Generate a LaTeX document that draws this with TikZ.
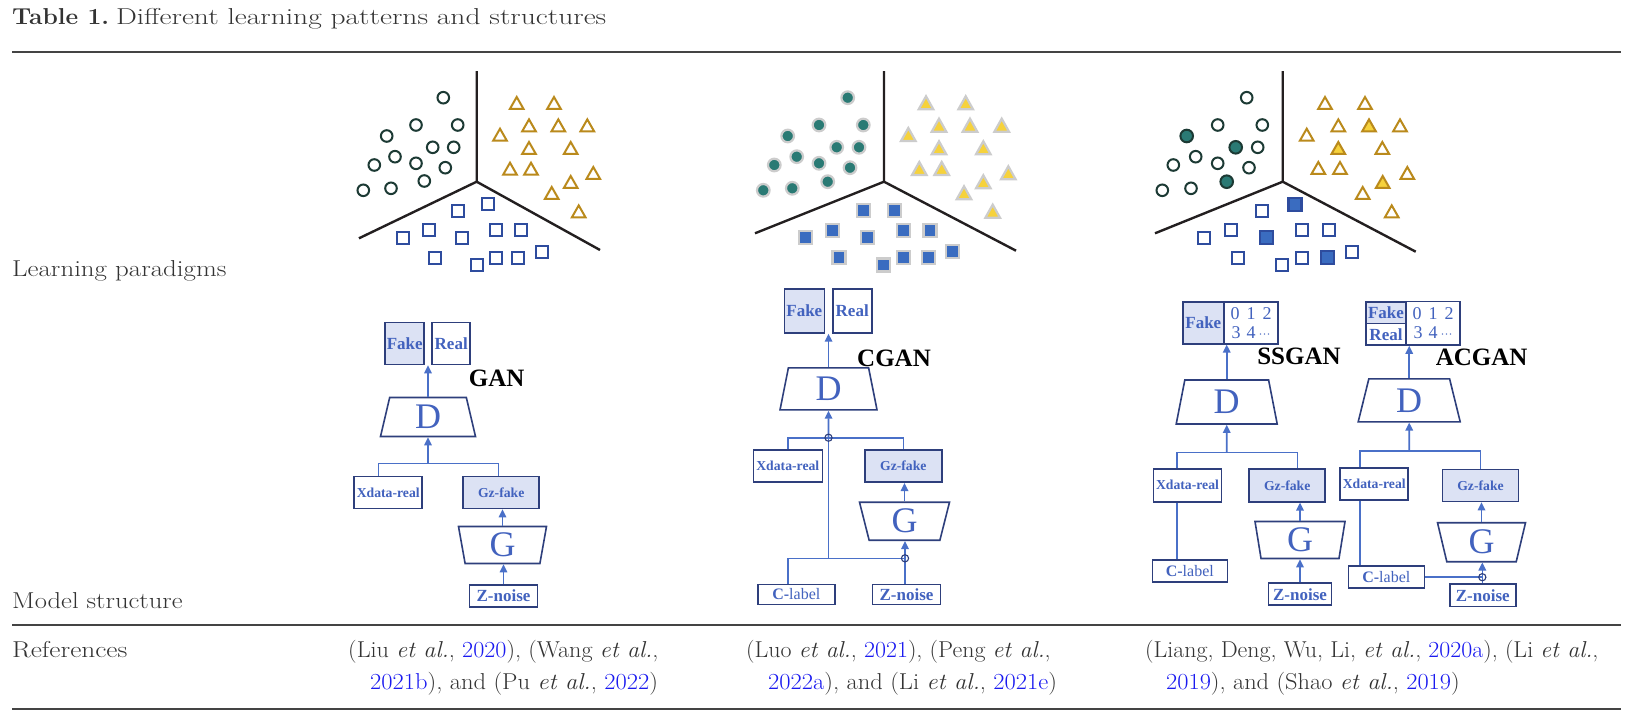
\documentclass[tikz,border=0pt]{standalone}
\usepackage{graphicx}
\usepackage{fontspec}
\newfontfamily\tms{Liberation Serif}
\usetikzlibrary{shapes.geometric,arrows.meta,calc}
\definecolor{navy}{HTML}{2E3F7C}
\definecolor{lfill}{HTML}{DCE2F4}
\definecolor{cline}{HTML}{4A70C8}
\definecolor{ltext}{HTML}{4262BE}
\definecolor{refblue}{HTML}{1A1AF0}
\definecolor{rulec}{HTML}{444444}
\definecolor{txt}{HTML}{333333}
\definecolor{cstk}{HTML}{1C3A34}
\definecolor{tstk}{HTML}{BA8A1C}
\definecolor{sstk}{HTML}{2E4C9E}
\definecolor{tealc}{HTML}{2A7A74}
\definecolor{yfill}{HTML}{F6D23C}
\definecolor{bfill}{HTML}{3A6CC0}
\definecolor{halo}{HTML}{CCCCCC}
\definecolor{sepc}{HTML}{231F20}
\newcommand\bodyfont{\fontsize{23}{28}\selectfont}
\newcommand\hs[2]{\scalebox{#1}[1]{#2}}
\begin{document}
\begin{tikzpicture}[x=1pt,y=-1pt,
 box/.style={draw=navy, line width=1.6pt, inner sep=0pt, text=ltext, font={\tms\bfseries\fontsize{17}{17}\selectfont}},
 fbox/.style={box, fill=lfill},
 smallbox/.style={font={\tms\bfseries\fontsize{13.7}{14}\selectfont}},
 digits/.style={font={\tms\fontsize{18}{19.4}\selectfont}, align=center},
 conn/.style={draw=cline, line width=1.6pt},
 arr/.style={conn, -{Triangle[length=8pt,width=7.5pt]}},
 trap/.style={trapezium, trapezium stretches body, draw=navy, line width=1.6pt, inner sep=0pt, text=ltext, font={\tms\fontsize{36}{36}\selectfont}},
 jc/.style={draw=navy, line width=1.1pt},
 mlabel/.style={font={\tms\bfseries\fontsize{25}{25}\selectfont}, text=black, inner sep=0pt},
 sep/.style={draw=sepc, line width=2.4pt},
 ocirc/.style={draw=cstk, line width=2pt},
 otri/.style={draw=tstk, line width=2pt},
 osq/.style={draw=sstk, line width=2.2pt},
 hcirc/.style={draw=halo, line width=2.2pt, fill=tealc},
 htri/.style={draw=halo, line width=2.2pt, fill=yfill},
 hsq/.style={draw=halo, line width=2.2pt, fill=bfill},
 fcirc/.style={ocirc, fill=tealc},
 ftri/.style={otri, fill=yfill},
 fsq/.style={osq, fill=bfill},
 rulel/.style={draw=rulec, line width=2.4pt},
 txtn/.style={anchor=base west, inner sep=0pt, text=txt, font=\bodyfont},
]
\useasboundingbox (0,0) rectangle (1629,717);
\fill[white] (0,0) rectangle (1629,717);

% ---------- table text and rules ----------
\node[txtn] (title) at (12,25) {\hs{1.07}{\textbf{Table 1.}} \hs{1.28}{Different learning patterns and structures}};
\coordinate (r1a) at (12,52); \coordinate (r1b) at (1621,52);
\coordinate (r2a) at (12,625); \coordinate (r2b) at (1621,625);
\coordinate (r3a) at (12,709); \coordinate (r3b) at (1621,709);
\draw[rulel] (r1a) -- (r1b);
\draw[rulel] (r2a) -- (r2b);
\draw[rulel] (r3a) -- (r3b);
\node[txtn] (lp) at (12,276.7) {\hs{1.17}{Learning paradigms}};
\node[txtn] (ms) at (12,608) {\hs{1.155}{Model structure}};
\node[txtn] (rf) at (12,657) {\hs{1.19}{References}};

\node[txtn] (ref1a) at (348,657) {\hs{1.05}{(Liu \textit{et al.}, \textcolor{refblue}{2020}), (Wang \textit{et al.},}};
\node[txtn] (ref1b) at (370,689) {\hs{1.065}{\textcolor{refblue}{2021b}), and (Pu \textit{et al.}, \textcolor{refblue}{2022})}};
\node[txtn] (ref2a) at (746,657) {\hs{1.04}{(Luo \textit{et al.}, \textcolor{refblue}{2021}), (Peng \textit{et al.},}};
\node[txtn] (ref2b) at (768,689) {\hs{1.065}{\textcolor{refblue}{2022a}), and (Li \textit{et al.}, \textcolor{refblue}{2021e})}};
\node[txtn] (ref3a) at (1145,657) {\hs{1.04}{(Liang, Deng, Wu, Li, \textit{et al.}, \textcolor{refblue}{2020a}), (Li \textit{et al.},}};
\node[txtn] (ref3b) at (1166,689) {\hs{1.06}{\textcolor{refblue}{2019}), and (Shao \textit{et al.}, \textcolor{refblue}{2019})}};

% ---------- scatter: GAN ----------
\draw[sep] (476.7,71) -- (476.7,181.7) -- (359,238.3);
\draw[sep] (476.7,181.7) -- (600,250);
\foreach \x/\y in {443.3/97.7, 416/125, 457.7/125, 386.7/136, 432.7/147.3, 453.7/147.3, 395/156.7, 374.3/165, 416/163.3, 445.3/167.7, 424.3/181, 363.3/190.3, 391/188.3}
  \draw[ocirc] (\x,\y) circle[radius=5.8];
\foreach \x/\y in {516.7/103.3, 554/103.3, 529/125.7, 558.3/125.7, 587.3/125.7, 500/135, 529/148.3, 570.7/148.3, 510/169, 531/169, 593.3/173.3, 570.7/182.3, 551.7/193.3, 578.7/211.7}
  \draw[otri] (\x-6.8,\y+5.6) -- (\x+6.8,\y+5.6) -- (\x,\y-6.3) -- cycle;
\foreach \x/\y in {457.7/210.7, 488.3/204.3, 428.7/230.3, 403.3/237.7, 462.3/237.7, 495.7/230.3, 520.7/230.3, 435/257.7, 476.7/265, 495.7/257.7, 518.3/257.7, 541.7/251.7}
  \draw[osq] (\x-6,\y-6) rectangle (\x+6,\y+6);

% ---------- scatter: CGAN ----------
\draw[sep] (884,71) -- (884,181.7) -- (755,233.3);
\draw[sep] (884,181.7) -- (1016,250.7);
\foreach \x/\y in {847.7/97.7, 819/125, 863.3/125, 787.7/136, 836.7/147.3, 859/147.3, 796.7/156.7, 774.3/165, 819/163.3, 850/167.7, 827.7/181.7, 763.3/190.3, 792.3/188.3}
  \draw[hcirc] (\x,\y) circle[radius=6.3];
\foreach \x/\y in {926/103.3, 965.7/103.3, 939/125.7, 970/125.7, 1001.7/125.7, 908.3/135, 939/148.3, 983.3/148.3, 919.3/169, 941.7/169, 1008.3/173.3, 983.3/182.3, 964/193.3, 992.7/211.7}
  \draw[htri] (\x-7.3,\y+6) -- (\x+7.3,\y+6) -- (\x,\y-7) -- cycle;
\foreach \x/\y in {863.3/210.7, 894.3/210.7, 832.7/230.3, 805.7/237.7, 867.7/237.7, 903.3/230.3, 930/230.3, 839/257.7, 883.3/265, 903.3/257.7, 928.3/257.7, 952.7/251.7}
  \draw[hsq] (\x-6.5,\y-6.5) rectangle (\x+6.5,\y+6.5);

% ---------- scatter: SSGAN / ACGAN ----------
\draw[sep] (1282.7,71) -- (1282.7,181.7) -- (1155,233.3);
\draw[sep] (1282.7,181.7) -- (1415.7,251.7);
\foreach \x/\y in {1246.7/97.7, 1217.7/125, 1262.3/125, 1257.7/147.3, 1195.7/156.7, 1173.3/165, 1217.7/163.3, 1249/167.7, 1162.3/190.3, 1191/188.3}
  \draw[ocirc] (\x,\y) circle[radius=5.8];
\foreach \x/\y in {1186.7/136, 1235.7/147.3, 1226.7/181.7}
  \draw[fcirc] (\x,\y) circle[radius=6.3];
\foreach \x/\y in {1325/103.3, 1365/103.3, 1338.3/125.7, 1400/125.7, 1306.7/135, 1382.3/148.3, 1318.3/168.3, 1340/168.3, 1407.3/173.3, 1362.7/193.3, 1391.7/211.7}
  \draw[otri] (\x-6.8,\y+5.6) -- (\x+6.8,\y+5.6) -- (\x,\y-6.3) -- cycle;
\foreach \x/\y in {1369/125.7, 1338.3/148.3, 1382.7/182.3}
  \draw[ftri] (\x-6.8,\y+5.6) -- (\x+6.8,\y+5.6) -- (\x,\y-6.3) -- cycle;
\foreach \x/\y in {1262.3/210.7, 1231/230.3, 1204.3/237.7, 1302.3/230.3, 1329/230.3, 1237.7/257.7, 1282.3/265, 1302.3/257.7, 1351.7/251.7}
  \draw[osq] (\x-6,\y-6) rectangle (\x+6,\y+6);
\foreach \x/\y in {1295/204.3, 1266.7/237.7, 1327.3/257.7}
  \draw[fsq] (\x-6.5,\y-6.5) rectangle (\x+6.5,\y+6.5);

% ---------- model: GAN ----------
\node[fbox, minimum width=39pt, minimum height=42pt] (fake1) at (404.7,343.5) {Fake};
\node[box, minimum width=38pt, minimum height=42pt] (real1) at (451.2,343.5) {Real};
\node[mlabel] (lab1) at (496.7,378.3) {GAN};
\node[trap, trapezium angle=68.8, minimum width=95pt, minimum height=39pt] (D1) at (428,417) {D};
\node[box, smallbox, minimum width=68pt, minimum height=32pt] (xd1) at (388.2,492.5) {Xdata-real};
\node[fbox, smallbox, minimum width=76pt, minimum height=32pt] (gz1) at (501.2,492.5) {Gz-fake};
\node[trap, trapezium angle=105.3, minimum width=88pt, minimum height=37pt] (G1) at (502.5,545) {G};
\node[box, minimum width=68pt, minimum height=22pt] (zn1) at (503.5,595.9) {Z-noise};
\coordinate (j1) at (428,463.3);
\draw[arr] (D1.north) -- (D1.north |- fake1.south);
\draw[arr] (j1) -- (D1.south);
\draw[conn] ([xshift=-9.9pt]xd1.north) |- (j1) -| ([xshift=-2.9pt]gz1.north);
\draw[arr] (G1.north) -- (G1.north |- gz1.south);
\draw[arr] (zn1.north) -- (zn1.north |- G1.south);

% ---------- model: CGAN ----------
\node[fbox, minimum width=40pt, minimum height=44pt] (fake2) at (804.3,310.9) {Fake};
\node[box, minimum width=39pt, minimum height=44pt] (real2) at (852.2,310.9) {Real};
\node[mlabel] (lab2) at (894,358.3) {CGAN};
\node[trap, trapezium angle=70.5, minimum width=97pt, minimum height=42pt] (D2) at (828.5,388.9) {D};
\node[box, smallbox, minimum width=69pt, minimum height=32pt] (xd2) at (787.8,466.2) {Xdata-real};
\node[fbox, smallbox, minimum width=77pt, minimum height=32pt] (gz2) at (903.3,466.2) {Gz-fake};
\node[trap, trapezium angle=111.7, minimum width=90pt, minimum height=38pt] (G2) at (904.5,521.2) {G};
\node[box, minimum width=77pt, minimum height=20pt, font={\tms\fontsize{16}{16}\selectfont}] (cl2) at (796.3,594.3) {\textbf{C-}label};
\node[box, minimum width=68pt, minimum height=20pt] (zn2) at (906.5,594.3) {Z-noise};
\coordinate (j2) at (828.5,437.7);
\coordinate (j3) at (905,558.3);
\draw[arr] (D2.north) -- (D2.north |- fake2.south);
\draw[arr] (j2) -- (D2.south);
\draw[conn] (xd2.north) |- (j2) -| (gz2.north);
\draw[conn] (j2) -- (j2 |- j3);
\draw[conn] ([xshift=-8.6pt]cl2.north) |- (j3);
\draw[arr] (G2.north) -- (G2.north |- gz2.south);
\draw[arr] (j3 |- zn2.north) -- (j3 |- G2.south);
\draw[jc] (j2) circle[radius=3.6];
\draw[jc] (j3) circle[radius=3.6];

% ---------- model: SSGAN ----------
\node[fbox, minimum width=41pt, minimum height=42pt] (fake3) at (1203.3,322.8) {Fake};
\node[box, digits, minimum width=54pt, minimum height=42pt] (dig3) at (1251.2,322.8) {0\hspace{7pt}1\hspace{7pt}2\\3\hspace{6pt}4\hspace{3pt}{\fontsize{12}{12}\selectfont\textperiodcentered\textperiodcentered\textperiodcentered}};
\node[mlabel] (lab3) at (1299,356.4) {SSGAN};
\node[trap, trapezium angle=70, minimum width=101pt, minimum height=44pt] (D3) at (1226.7,402) {D};
\node[box, smallbox, minimum width=68pt, minimum height=33pt] (xd3) at (1187.5,485.3) {Xdata-real};
\node[fbox, smallbox, minimum width=76pt, minimum height=33pt] (gz3) at (1287.2,485.3) {Gz-fake};
\node[trap, trapezium angle=104, minimum width=90pt, minimum height=37pt] (G3) at (1300,540) {G};
\node[box, minimum width=75pt, minimum height=22pt, font={\tms\fontsize{16}{16}\selectfont}] (cl3) at (1189.8,571.2) {\textbf{C-}label};
\node[box, minimum width=63pt, minimum height=22pt] (zn3) at (1300,594.2) {Z-noise};
\coordinate (j4) at (1226.7,452.3);
\draw[arr] (D3.north) -- (D3.north |- fake3.south);
\draw[arr] (j4) -- (D3.south);
\draw[conn] ([xshift=-10.8pt]xd3.north) |- (j4) -| ([xshift=10.1pt]gz3.north);
\draw[conn] ([xshift=-10.8pt]xd3.south) -- ([xshift=-10.8pt]xd3.south |- cl3.north);
\draw[arr] (G3.north) -- (G3.north |- gz3.south);
\draw[arr] (zn3.north) -- (zn3.north |- G3.south);

% ---------- model: ACGAN ----------
\node[fbox, minimum width=40pt, minimum height=21.6pt] (fake4) at (1386,312.5) {Fake};
\node[box, minimum width=40pt, minimum height=21.6pt] (real4) at (1386,334.2) {Real};
\node[box, digits, minimum width=54pt, minimum height=43.3pt] (dig4) at (1433,323.3) {0\hspace{7pt}1\hspace{7pt}2\\3\hspace{6pt}4\hspace{3pt}{\fontsize{12}{12}\selectfont\textperiodcentered\textperiodcentered\textperiodcentered}};
\node[mlabel] (lab4) at (1481.7,357.3) {ACGAN};
\node[trap, trapezium angle=65.8, minimum width=102pt, minimum height=43pt] (D4) at (1409.2,400.3) {D};
\node[box, smallbox, minimum width=68pt, minimum height=32pt] (xd4) at (1374.2,484) {Xdata-real};
\node[fbox, smallbox, minimum width=76pt, minimum height=32pt] (gz4) at (1480.5,485.5) {Gz-fake};
\node[trap, trapezium angle=111, minimum width=88pt, minimum height=39pt] (G4) at (1481.5,542.2) {G};
\node[box, minimum width=76pt, minimum height=22pt, font={\tms\fontsize{16}{16}\selectfont}] (cl4) at (1386.3,577.2) {\textbf{C-}label};
\node[box, minimum width=66pt, minimum height=22.7pt] (zn4) at (1482.8,595.3) {Z-noise};
\coordinate (j5) at (1409.2,450.7);
\coordinate (j6) at (1482.3,577.2);
\draw[arr] (D4.north) -- (D4.north |- real4.south);
\draw[arr] (j5) -- (D4.south);
\draw[conn] ([xshift=-14.2pt]xd4.north) |- (j5) -| (gz4.north);
\draw[conn] ([xshift=-14.2pt]xd4.south) -- ([xshift=-14.2pt]xd4.south |- cl4.north);
\draw[conn] (cl4.east) -- (j6);
\draw[arr] (G4.north) -- (G4.north |- gz4.south);
\draw[arr] (j6 |- zn4.north) -- (j6 |- G4.south);
\draw[jc] (j6) circle[radius=3.6];
\end{tikzpicture}
\end{document}
